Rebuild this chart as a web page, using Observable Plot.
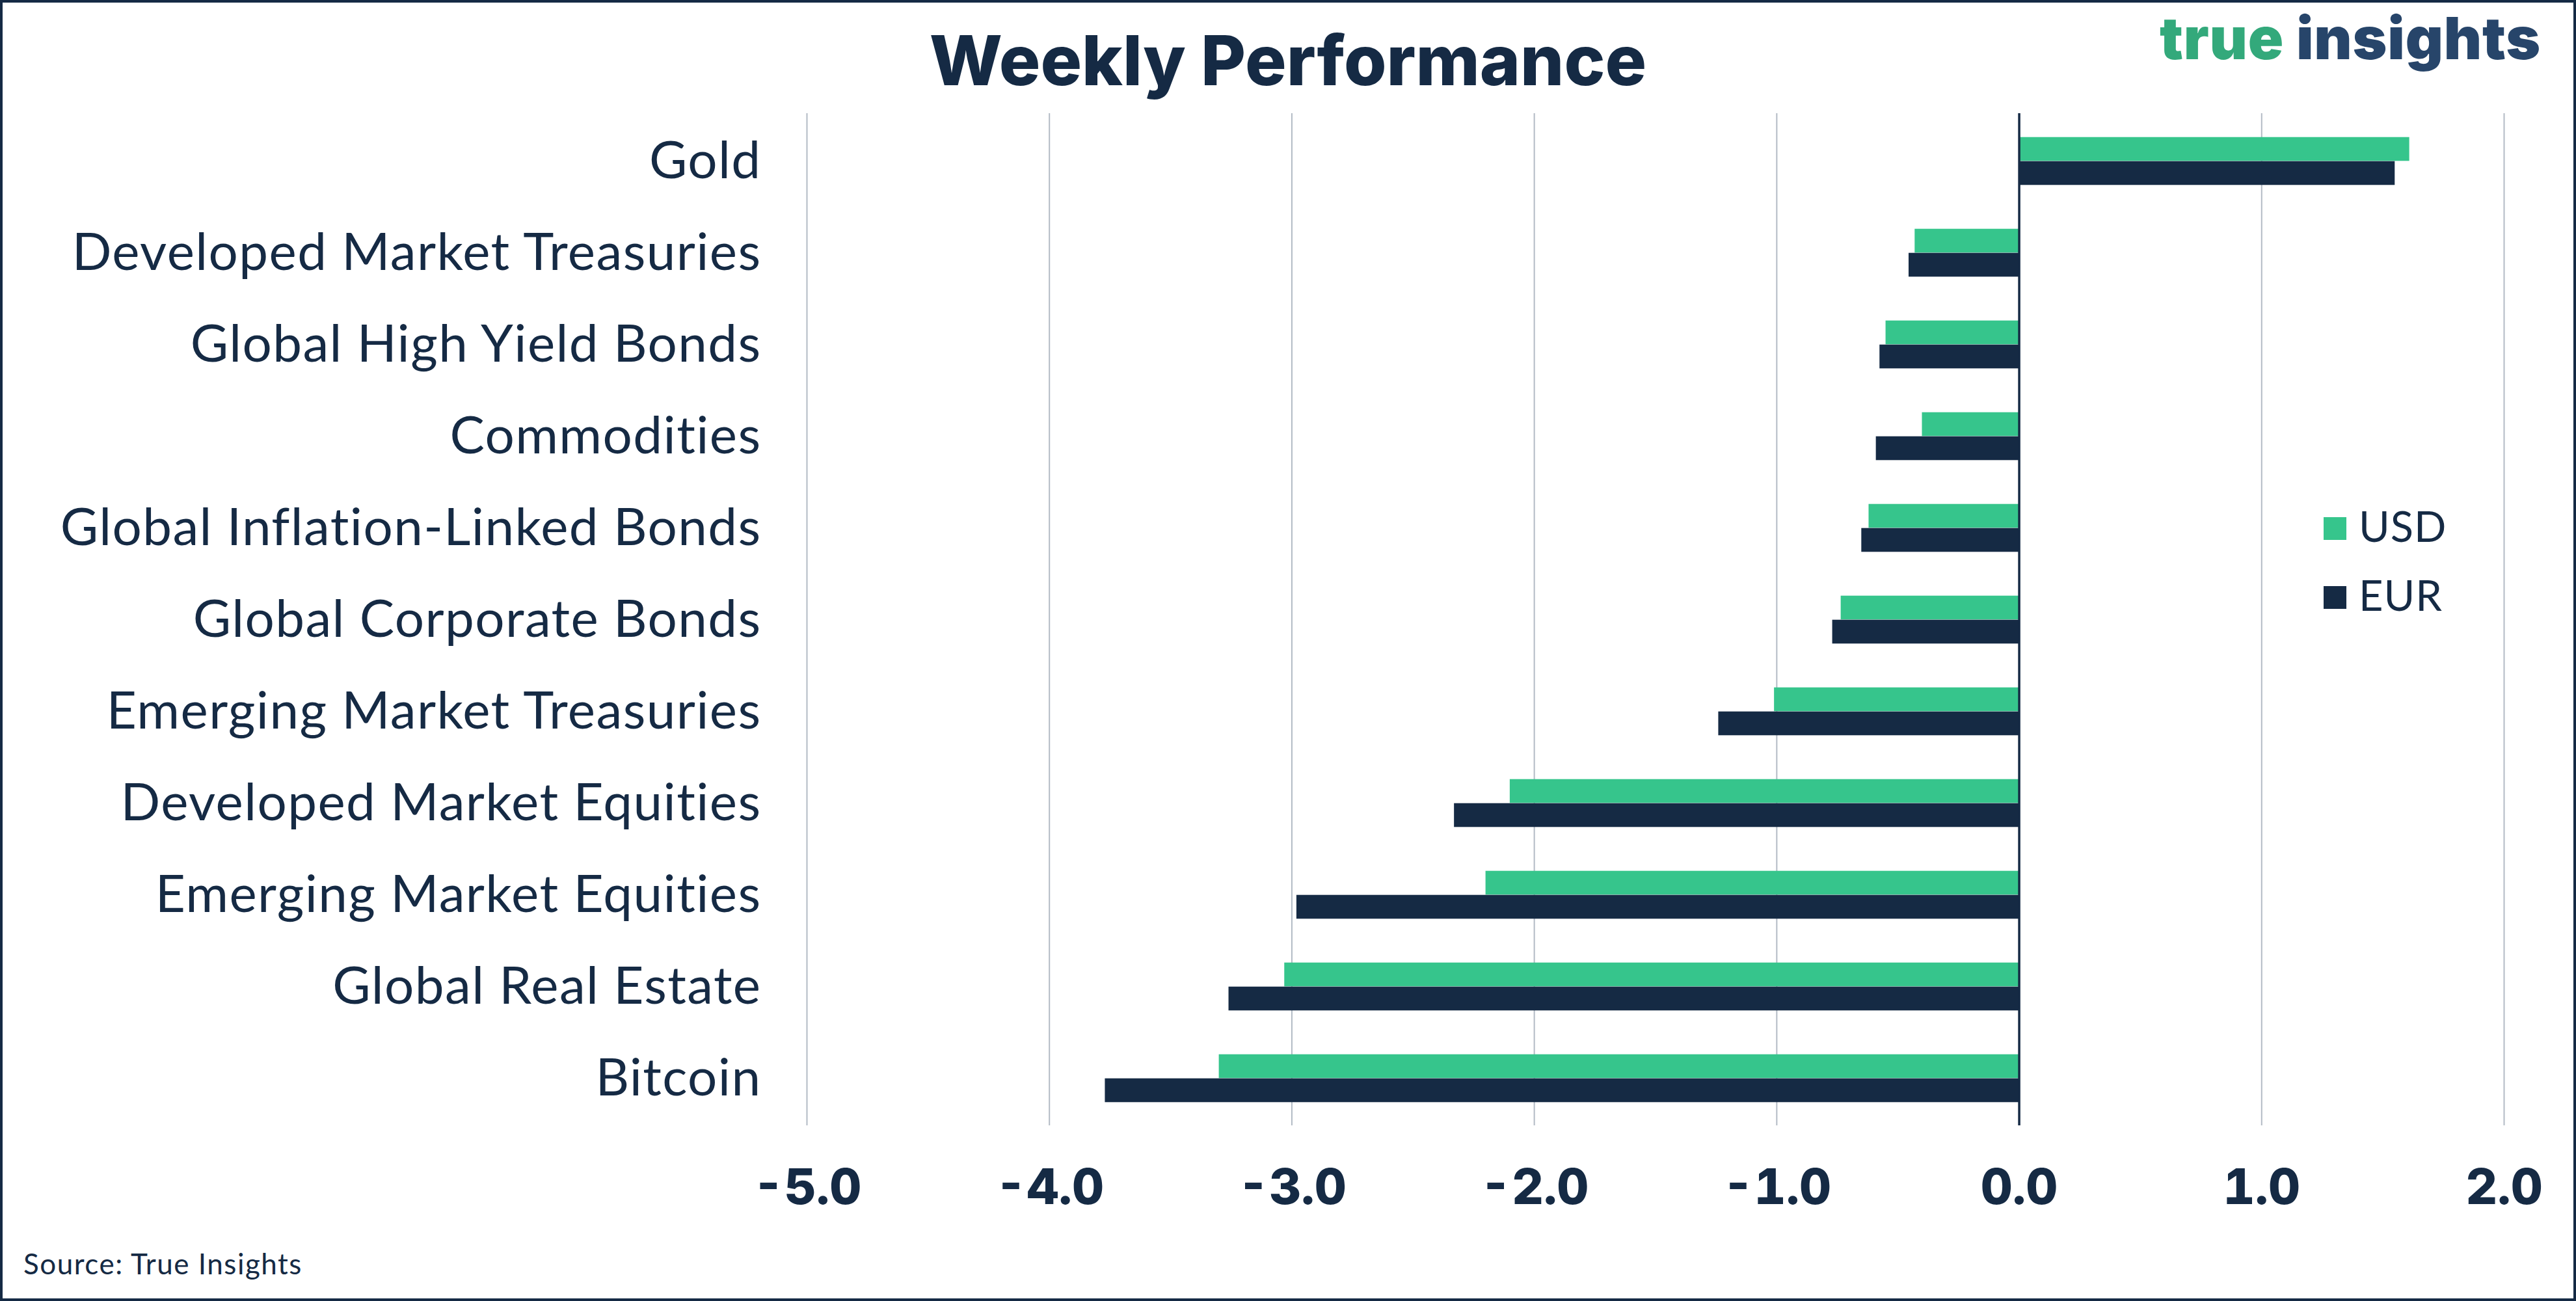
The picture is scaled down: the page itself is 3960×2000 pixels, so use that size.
<!DOCTYPE html>
<html>
<head>
<meta charset="utf-8">
<script src="https://cdn.jsdelivr.net/npm/d3@7"></script>
<script src="https://cdn.jsdelivr.net/npm/@observablehq/plot@0.6"></script>
<style>
  html, body { margin: 0; padding: 0; background: #ffffff; }
  #page { position: relative; width: 3960px; height: 2000px; overflow: hidden; background: #ffffff; }
  #chart { position: absolute; left: 0; top: 0; }
  #overlay { position: absolute; left: 0; top: 0; }
  #frame { position: absolute; left: 0; top: 0; width: 3960px; height: 2000px; box-sizing: border-box; border: 4px solid #152a44; pointer-events: none; }
  #chart svg [aria-label="x-axis tick label"] text { font-family: Inter, sans-serif; font-weight: 800; }
  #chart svg [aria-label="y-axis tick label"] text { font-family: Lato, sans-serif; font-weight: 400; letter-spacing: 1.4px; }
</style>
</head>
<body>
<div id="page">
  <div id="chart"></div>
  <svg id="overlay" width="3960" height="2000" xmlns="http://www.w3.org/2000/svg"></svg>
  <div id="frame"></div>
</div>
<script>
// ---- Data ----
const categories = [
  "Gold",
  "Developed Market Treasuries",
  "Global High Yield Bonds",
  "Commodities",
  "Global Inflation-Linked Bonds",
  "Global Corporate Bonds",
  "Emerging Market Treasuries",
  "Developed Market Equities",
  "Emerging Market Equities",
  "Global Real Estate",
  "Bitcoin"
];
const usd = [1.61, -0.43, -0.55, -0.40, -0.62, -0.735, -1.01, -2.10, -2.20, -3.03, -3.30];
const eur = [1.55, -0.455, -0.575, -0.59, -0.65, -0.77, -1.24, -2.33, -2.98, -3.26, -3.77];
const xTicks = [-5, -4, -3, -2, -1, 0, 1, 2];
const seriesNames = ["USD", "EUR"];
const title = "Weekly Performance";
const source = "Source: True Insights";

const NAVY = "#152a44";
const GREEN = "#36c58c";

const rows = categories.map((c, i) => ({cat: c, usd: usd[i], eur: eur[i]}));

const step = 141.4;
const barH = 37;
const half = step / 2;

const plot = Plot.plot({
  width: 3960,
  height: 2000,
  marginLeft: 1240,
  marginRight: 111,
  marginTop: 174,
  marginBottom: 270,
  style: {fontFamily: "Lato, sans-serif", color: NAVY, background: "transparent"},
  x: {domain: [-5, 2], ticks: xTicks},
  y: {domain: categories, padding: 0},
  marks: [
    Plot.ruleX(xTicks, {stroke: "#b3bbc5", strokeWidth: 2}),
    Plot.barX(rows, {x: "usd", y: "cat", fill: GREEN, insetTop: half - barH, insetBottom: half}),
    Plot.barX(rows, {x: "eur", y: "cat", fill: NAVY, insetTop: half, insetBottom: half - barH}),
    Plot.ruleX([0], {stroke: NAVY, strokeWidth: 3.5}),
    Plot.axisY({tickSize: 0, tickPadding: 70, fontSize: 80, fill: NAVY, label: null}),
    Plot.axisX({ticks: xTicks, tickFormat: d => d.toFixed(1), tickSize: 0, tickPadding: 67, fontSize: 76, fontWeight: 800, fill: NAVY, label: null})
  ]
});
document.getElementById("chart").appendChild(plot);

// ---- Overlay texts ----
const ov = d3.select("#overlay");
ov.append("text")
  .attr("x", 1980).attr("y", 131)
  .attr("text-anchor", "middle")
  .attr("font-family", "Inter, sans-serif").attr("font-weight", 800)
  .attr("font-size", 106).attr("fill", NAVY)
  .text(title);

const logo = ov.append("text")
  .attr("x", 3906).attr("y", 91)
  .attr("text-anchor", "end")
  .attr("font-family", "Inter, sans-serif").attr("font-weight", 900)
  .attr("font-size", 90).attr("letter-spacing", 0.8);
logo.append("tspan").attr("fill", "#33a97b").text("true");
logo.append("tspan").attr("fill", "#27456a").text(" insights");

const legendColors = [GREEN, NAVY];
const legendY = [795, 901];
seriesNames.forEach((s, i) => {
  ov.append("rect").attr("x", 3572).attr("y", legendY[i]).attr("width", 35).attr("height", 35).attr("fill", legendColors[i]);
  ov.append("text").attr("x", 3626).attr("y", legendY[i] + 38)
    .attr("font-family", "Lato, sans-serif").attr("font-size", 65).attr("letter-spacing", 1)
    .attr("fill", NAVY).text(s);
});

ov.append("text")
  .attr("x", 36).attr("y", 1959)
  .attr("font-family", "Lato, sans-serif").attr("font-size", 44).attr("letter-spacing", 1.5).attr("fill", NAVY)
  .text(source);
</script>
</body>
</html>
